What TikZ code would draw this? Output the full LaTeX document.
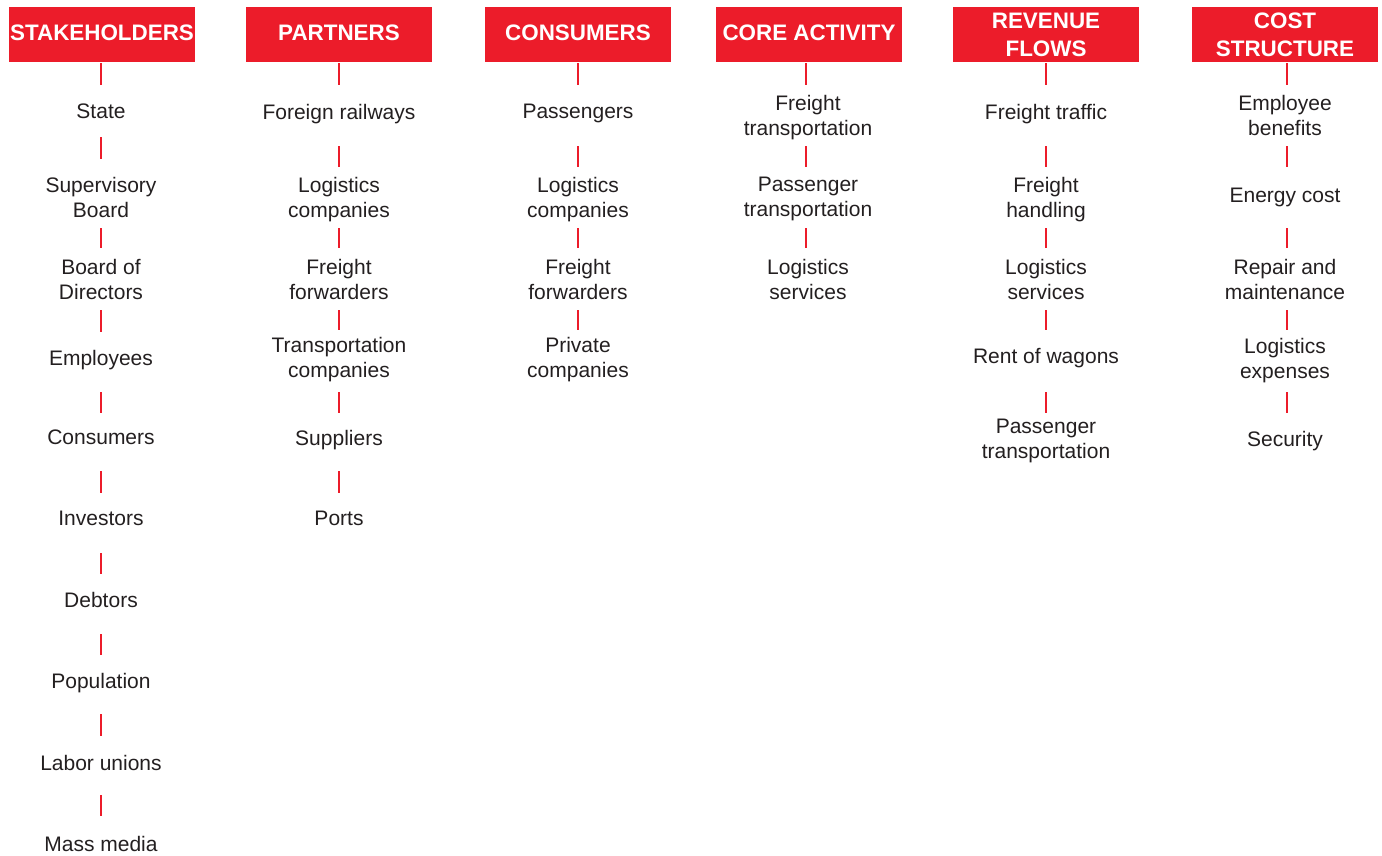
\documentclass[tikz,border=0pt]{standalone}
\usepackage{fontspec}
\setmainfont{Liberation Sans}
\definecolor{rzred}{HTML}{EC1C2A}
\definecolor{rztext}{HTML}{231F20}
\tikzset{
  x=1pt, y=-1pt,
  hbox/.style={fill=rzred, draw=none, minimum width=186pt, minimum height=55pt, inner sep=0pt},
  htext/.style={anchor=north, inner sep=0pt, text=white, align=center, font=\fontsize{22.4}{28}\selectfont\bfseries},
  item/.style={anchor=north, inner sep=0pt, text=rztext, align=center, font=\fontsize{21}{25.3}\selectfont},
  tick/.style={draw=rzred, line width=2.4pt}
}
\begin{document}
\begin{tikzpicture}
\useasboundingbox (0,0) rectangle (1382,855);
% headers
\node[hbox] (h1) at (102,34.5) {};
\node[htext] (h1t) at (102,25) {STAKEHOLDERS};
\node[hbox] (h2) at (339,34.5) {};
\node[htext] (h2t) at (339,25) {PARTNERS};
\node[hbox] (h3) at (578,34.5) {};
\node[htext] (h3t) at (578,25) {CONSUMERS};
\node[hbox] (h4) at (809,34.5) {};
\node[htext] (h4t) at (809,25) {CORE ACTIVITY};
\node[hbox] (h5) at (1046,34.5) {};
\node[htext] (h5t) at (1046,13) {REVENUE\\FLOWS};
\node[hbox] (h6) at (1285,34.5) {};
\node[htext] (h6t) at (1285,13) {COST\\STRUCTURE};

% column 1: stakeholders
\node[item] (a1) at (101,104) {State};
\node[item] (a2) at (101,177) {Supervisory\\Board};
\node[item] (a3) at (101,259) {Board of\\Directors};
\node[item] (a4) at (101,350) {Employees};
\node[item] (a5) at (101,430) {Consumers};
\node[item] (a6) at (101,511) {Investors};
\node[item] (a7) at (101,592) {Debtors};
\node[item] (a8) at (101,673) {Population};
\node[item] (a9) at (101,755) {Labor unions};
\node[item] (a10) at (101,836) {Mass media};
\foreach \a/\b in {63/85,137/159,228/248,310/332,392/413,471/493,553/574,634/655,714/736,795/816}
  \draw[tick] (101,\a) -- (101,\b);

% column 2: partners
\node[item] (b1) at (339,104) {Foreign railways};
\node[item] (b2) at (339,177) {Logistics\\companies};
\node[item] (b3) at (339,259) {Freight\\forwarders};
\node[item] (b4) at (339,337) {Transportation\\companies};
\node[item] (b5) at (339,430) {Suppliers};
\node[item] (b6) at (339,511) {Ports};
\foreach \a/\b in {63/85,146/167,228/248,310/330,392/413,471/493}
  \draw[tick] (339,\a) -- (339,\b);

% column 3: consumers
\node[item] (c1) at (578,104) {Passengers};
\node[item] (c2) at (578,177) {Logistics\\companies};
\node[item] (c3) at (578,259) {Freight\\forwarders};
\node[item] (c4) at (578,337) {Private\\companies};
\foreach \a/\b in {63/85,146/167,228/248,310/330}
  \draw[tick] (578,\a) -- (578,\b);

% column 4: core activity
\node[item] (d1) at (808,95) {Freight\\transportation};
\node[item] (d2) at (808,177) {Passenger\\transportation};
\node[item] (d3) at (808,259) {Logistics\\services};
\foreach \a/\b in {63/85,146/167,228/248}
  \draw[tick] (806,\a) -- (806,\b);

% column 5: revenue flows
\node[item] (e1) at (1046,104) {Freight traffic};
\node[item] (e2) at (1046,177) {Freight\\handling};
\node[item] (e3) at (1046,259) {Logistics\\services};
\node[item] (e4) at (1046,348) {Rent of wagons};
\node[item] (e5) at (1046,419) {Passenger\\transportation};
\foreach \a/\b in {63/85,146/167,228/248,310/330,392/413}
  \draw[tick] (1046,\a) -- (1046,\b);

% column 6: cost structure
\node[item] (f1) at (1285,95) {Employee\\benefits};
\node[item] (f2) at (1285,188) {Energy cost};
\node[item] (f3) at (1285,259) {Repair and\\maintenance};
\node[item] (f4) at (1285,338) {Logistics\\expenses};
\node[item] (f5) at (1285,431) {Security};
\foreach \a/\b in {63/85,146/167,228/248,310/330,392/413}
  \draw[tick] (1287,\a) -- (1287,\b);
\end{tikzpicture}
\end{document}
